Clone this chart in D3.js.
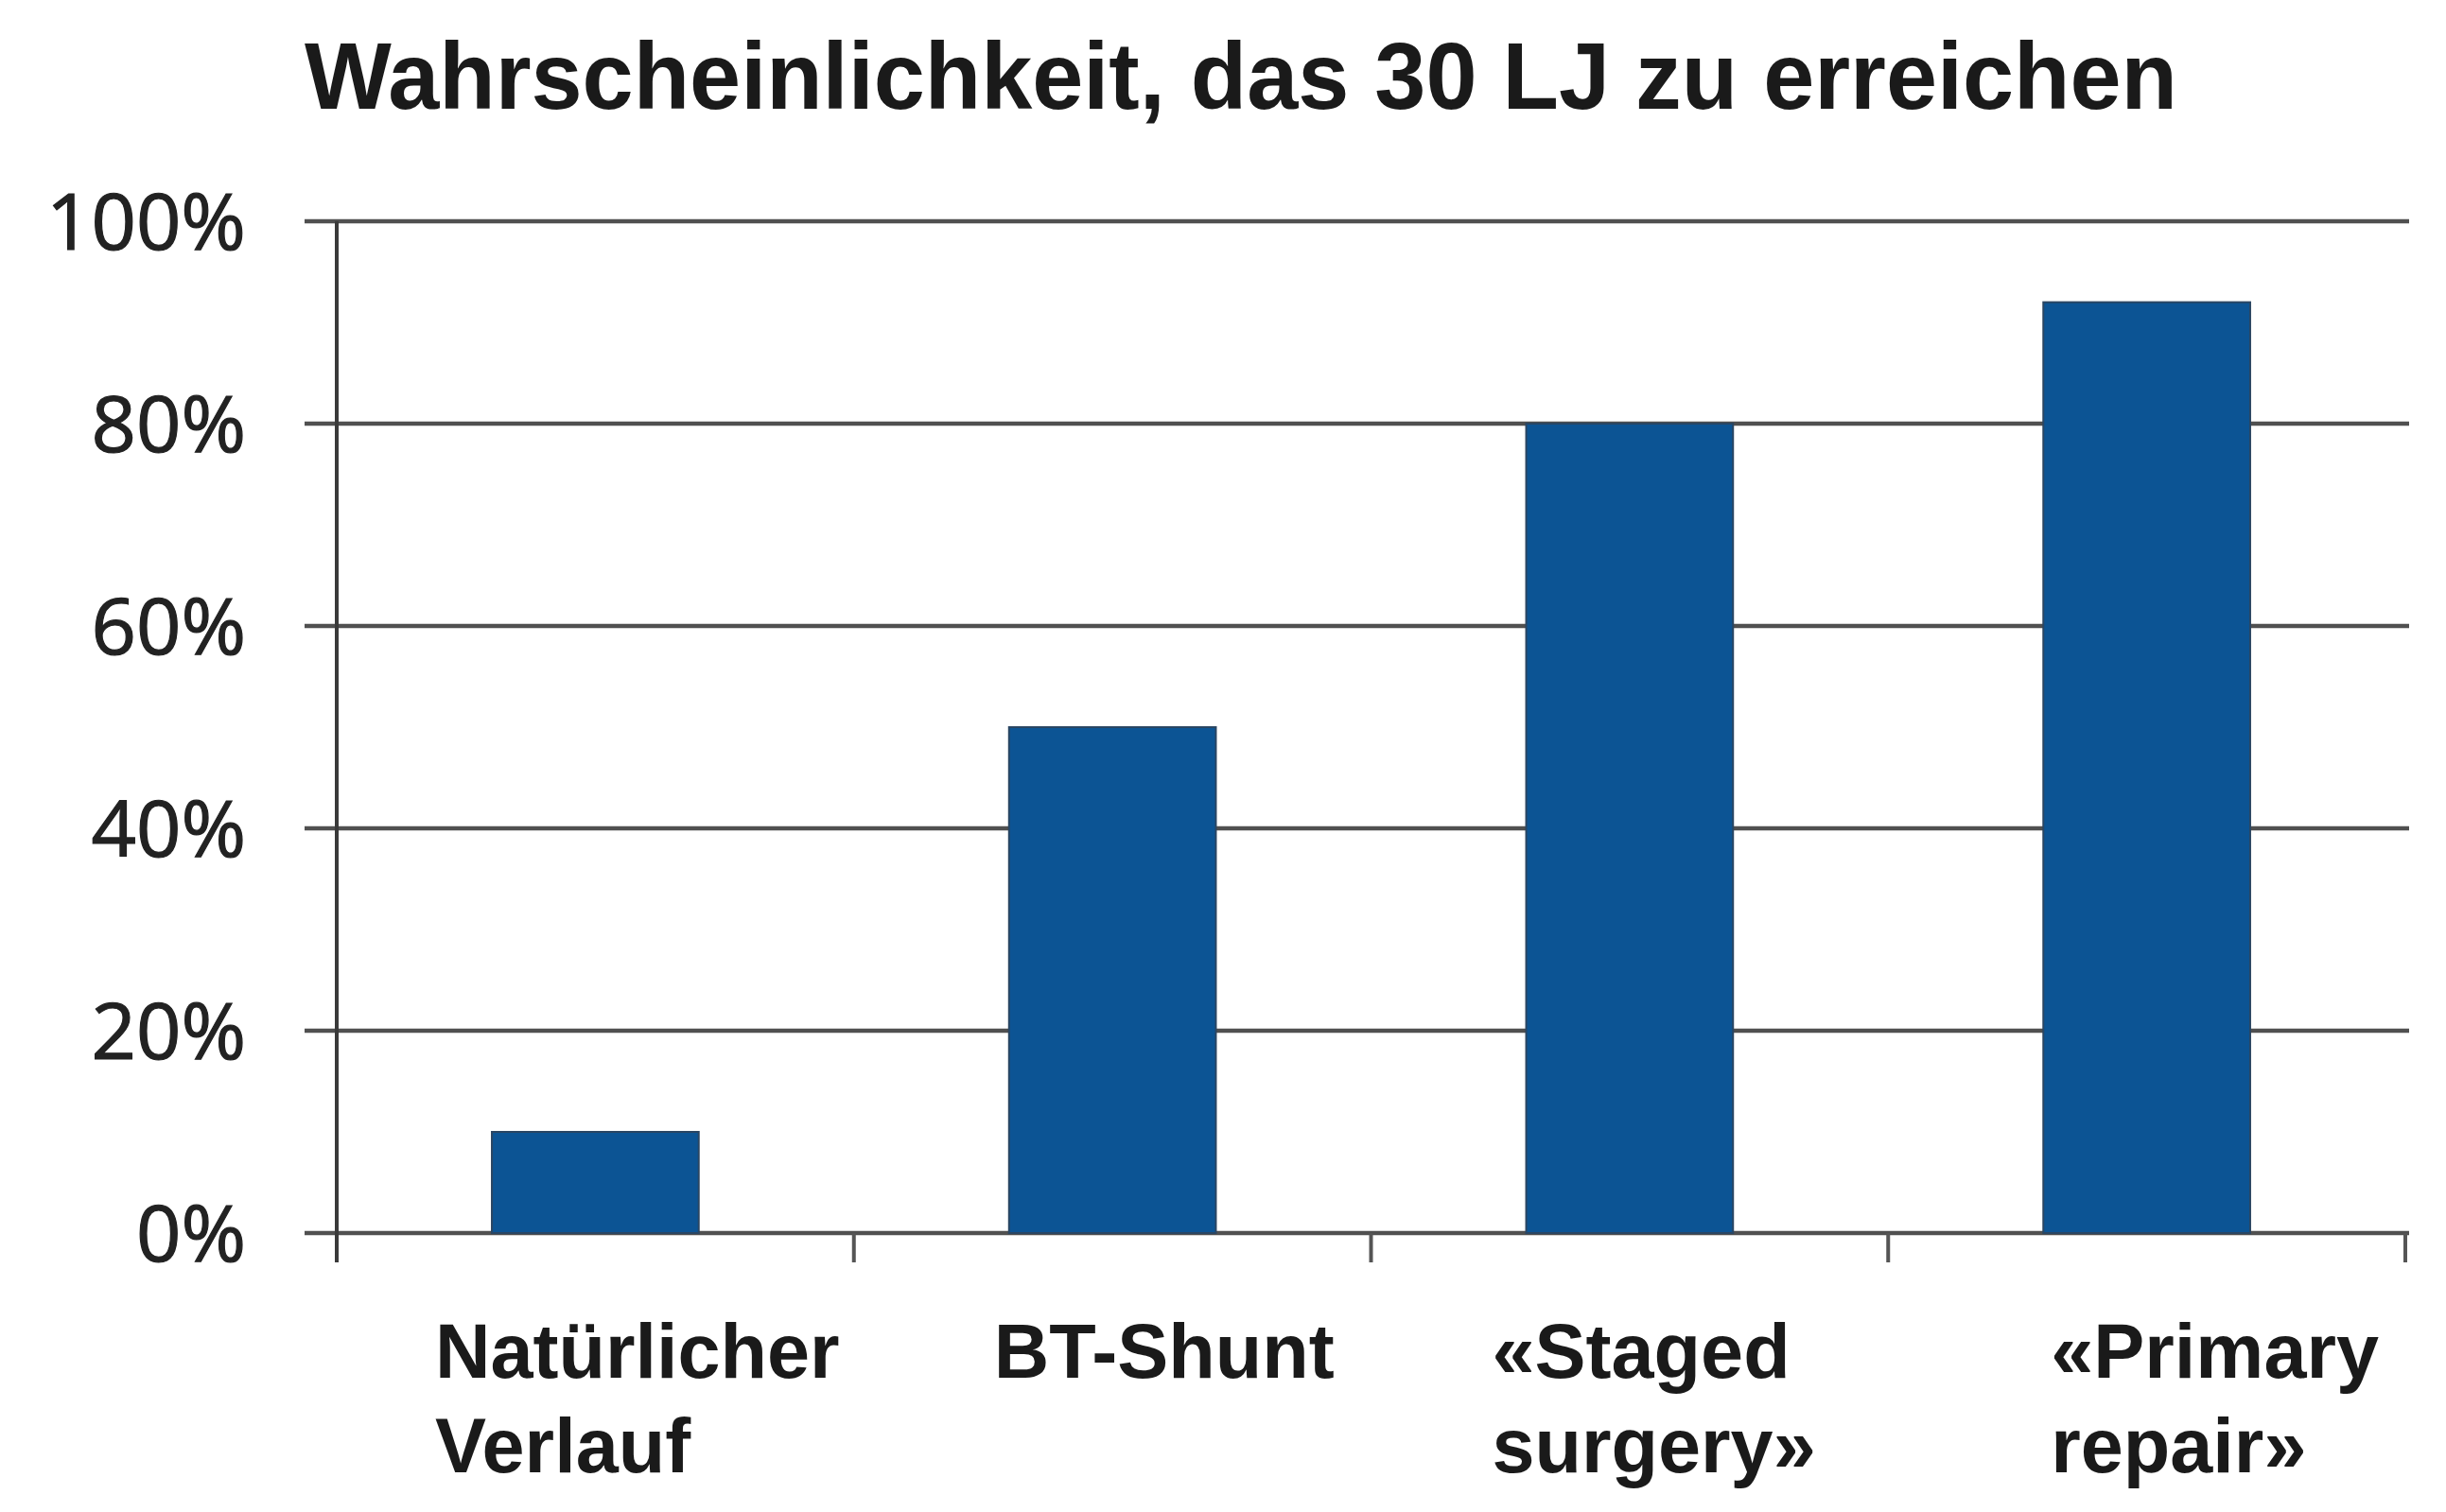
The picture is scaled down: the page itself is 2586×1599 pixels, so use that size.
<!DOCTYPE html>
<html>
<head>
<meta charset="utf-8">
<script src="https://cdn.jsdelivr.net/npm/d3@7"></script>
<style>
  html, body { margin: 0; padding: 0; background: #ffffff; }
  svg { display: block; }
</style>
</head>
<body>
<svg id="chart" width="2586" height="1599"></svg>
<script>
// ---- data ----
const title = "Wahrscheinlichkeit, das 30 LJ zu erreichen";
const categories = ["Natürlicher Verlauf", "BT-Shunt", "«Staged surgery»", "«Primary repair»"];
const categoryLines = [["Natürlicher", "Verlauf"], ["BT-Shunt"], ["«Staged", "surgery»"], ["«Primary", "repair»"]];
const values = [0.10, 0.50, 0.80, 0.92];
const yTicks = [0, 0.2, 0.4, 0.6, 0.8, 1.0];
const yTickLabels = ["0%", "20%", "40%", "60%", "80%", "100%"];

// ---- layout ----
const W = 2586, H = 1599;
const plot = { left: 356, right: 2543, top: 234, bottom: 1304 };
const labelDx = [-60, -16, -36, 8];   // label offset from bar left edge

const svg = d3.select("#chart");
svg.append("rect").attr("width", W).attr("height", H).attr("fill", "#fff");

const x = d3.scaleBand()
  .domain(categories)
  .range([plot.left, plot.right])
  .paddingInner(0.6)
  .paddingOuter(0.3);

const y = d3.scaleLinear().domain([0, 1]).range([plot.bottom, plot.top]);

// title
svg.append("text")
  .attr("x", 322).attr("y", 115)
  .attr("font-family", "'Liberation Sans', Arial, sans-serif")
  .attr("font-weight", "bold")
  .attr("font-size", 101)
  .attr("textLength", 1980)
  .attr("lengthAdjust", "spacingAndGlyphs")
  .attr("fill", "#1a1a1a")
  .text(title);

// gridlines (including 0 line)
svg.append("g").selectAll("line")
  .data(yTicks)
  .join("line")
  .attr("x1", plot.left - 34)
  .attr("x2", plot.right + 4)
  .attr("y1", d => y(d))
  .attr("y2", d => y(d))
  .attr("stroke", "#505050")
  .attr("stroke-width", 4.5);

// y axis labels
const yAxis = d3.axisLeft(y)
  .tickValues(yTicks)
  .tickFormat((d, i) => yTickLabels[i])
  .tickSize(0)
  .tickPadding(96);
const gy = svg.append("g").attr("transform", `translate(${plot.left},0)`).call(yAxis);
gy.select(".domain").remove();
gy.selectAll("text")
  .attr("font-family", "'Open Sans', 'Noto Sans', sans-serif")
  .attr("font-size", 83)
  .attr("fill", "#222")
  .attr("stroke", "#222")
  .attr("stroke-width", 1.2)
  .attr("dy", "0.36em");

// bars
svg.append("g").selectAll("rect")
  .data(values)
  .join("rect")
  .attr("x", (d, i) => x(categories[i]))
  .attr("width", x.bandwidth())
  .attr("y", d => y(d))
  .attr("height", d => y(0) - y(d))
  .attr("fill", "#0c5494")
  .attr("stroke", "#2a4663")
  .attr("stroke-width", 2);

// y axis line
svg.append("line")
  .attr("x1", plot.left).attr("x2", plot.left)
  .attr("y1", plot.top).attr("y2", plot.bottom + 31)
  .attr("stroke", "#3a3a3a")
  .attr("stroke-width", 4);

// x axis boundary ticks
const step = x.step();
const boundaries = categories.map((c, i) => x(c) - x.paddingOuter() * step + step);
svg.append("g").selectAll("line")
  .data(boundaries)
  .join("line")
  .attr("x1", d => d).attr("x2", d => d)
  .attr("y1", plot.bottom).attr("y2", plot.bottom + 31)
  .attr("stroke", "#555")
  .attr("stroke-width", 4);

// category labels
const lab = svg.append("g");
categories.forEach((c, i) => {
  const t = lab.append("text")
    .attr("font-family", "'Liberation Sans', Arial, sans-serif")
    .attr("font-weight", "bold")
    .attr("font-size", 81)
    .attr("fill", "#1a1a1a");
  categoryLines[i].forEach((line, j) => {
    t.append("tspan")
      .attr("x", x(c) + labelDx[i])
      .attr("y", 1457 + j * 100)
      .text(line);
  });
});
</script>
</body>
</html>
